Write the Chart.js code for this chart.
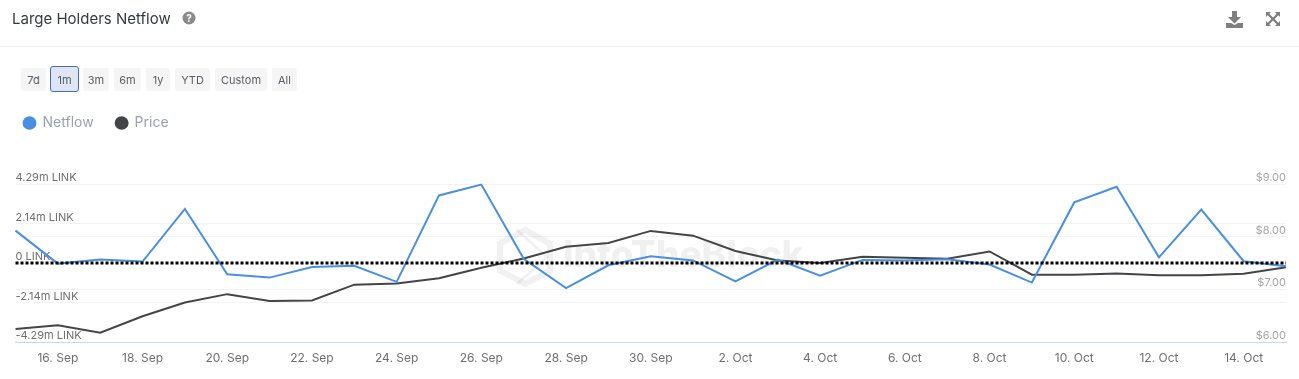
<!DOCTYPE html>
<html><head><meta charset="utf-8">
<script src="https://cdn.jsdelivr.net/npm/chart.js@4"></script>
<style>
html,body{margin:0;padding:0;background:#fff;overflow:hidden}
body{width:1299px;height:379px;position:relative;font-family:Inter,sans-serif}
#c{position:absolute;left:0;top:0}
#title{position:absolute;left:12px;top:10px;font-size:15px;line-height:18px;color:#333a42}
#q{position:absolute;left:182px;top:11px}
#rule{position:absolute;left:0;top:46px;width:1299px;height:1px;background:#eeeeee}
#dl{position:absolute;left:1226px;top:11px}
#fs{position:absolute;left:1265px;top:11px}
.b{position:absolute;top:68px;height:23px;line-height:25px;text-align:center;background:#f5f5f6;border-radius:2px;font-size:11px;color:#5a5f66;box-sizing:border-box}
.b.on{top:66px;height:26px;line-height:27px;background:#dfe5f2;border:1px solid #4169e1;border-radius:3px}
</style></head><body>
<canvas id="c" width="1299" height="379" style="width:1299px;height:379px"></canvas>
<div id="title">Large Holders Netflow</div>
<svg id="q" width="14" height="14" viewBox="0 0 14 14"><circle cx="7" cy="7" r="6.5" fill="#8a8a8a"/><text x="7" y="11" text-anchor="middle" font-family="Inter" font-weight="700" font-size="10" fill="#fff">?</text></svg>
<div id="rule"></div>
<svg id="dl" width="17" height="17" viewBox="0 0 17 17"><path d="M6 0h5v6h4l-6.500 6.500L2 6h4z" fill="#7f7f7f"/><path d="M0 12h5l3.500 2 3.500-2h5v5H0z" fill="#7f7f7f"/></svg>
<svg id="fs" width="16" height="16" viewBox="0 0 16 16" fill="#7f7f7f"><path d="M1 1h5L4.300 2.700 8 6.400 11.700 2.700 10 1h5v5l-1.700-1.700L9.600 8l3.700 3.700L15 10v5h-5l1.700-1.700L8 9.600l-3.700 3.700L6 15H1v-5l1.700 1.700L6.400 8 2.700 4.300 1 6z"/></svg>
<div class="b" style="left:21px;width:25px">7d</div>
<div class="b on" style="left:50px;width:29px">1m</div>
<div class="b" style="left:83px;width:26px">3m</div>
<div class="b" style="left:114px;width:27px">6m</div>
<div class="b" style="left:146px;width:24px">1y</div>
<div class="b" style="left:175px;width:35px">YTD</div>
<div class="b" style="left:215px;width:52px">Custom</div>
<div class="b" style="left:272px;width:25px">All</div>
<script>
const days = ["15. Sep","16. Sep","17. Sep","18. Sep","19. Sep","20. Sep","21. Sep","22. Sep","23. Sep","24. Sep","25. Sep","26. Sep","27. Sep","28. Sep","29. Sep","30. Sep","1. Oct","2. Oct","3. Oct","4. Oct","5. Oct","6. Oct","7. Oct","8. Oct","9. Oct","10. Oct","11. Oct","12. Oct","13. Oct","14. Oct","15. Oct"];
const netflow = [1.76,-0.03,0.19,0.08,2.94,-0.61,-0.79,-0.21,-0.15,-1.02,3.67,4.26,0.23,-1.36,-0.12,0.37,0.14,-1.0,0.19,-0.68,0.17,0.14,0.21,-0.08,-1.06,3.29,4.14,0.31,2.90,0.1,-0.17];
const price = [6.25,6.32,6.18,6.49,6.75,6.91,6.78,6.79,7.09,7.11,7.21,7.41,7.585,7.81,7.88,8.11,8.02,7.73,7.55,7.50,7.62,7.60,7.58,7.72,7.28,7.28,7.30,7.27,7.27,7.295,7.42];
const zeroLine = days.map(() => 0);
const leftTicks = [-4.29,-2.14,0,2.14,4.29];
const rightTicks = [6,7,8,9];

const legendGap = {id:'legendGap',
  beforeInit(chart){const fit=chart.legend.fit;chart.legend.fit=function(){fit.call(this);this.height=this.height+44;};},
  beforeDraw(chart){chart.legend.left=1.5;}
};
const watermark = {id:'watermark',beforeDatasetsDraw(chart){
  const g=chart.ctx;g.save();
  g.fillStyle='rgba(0,0,0,0.06)';g.strokeStyle='rgba(0,0,0,0.055)';
  g.font='800 37px Inter';g.textBaseline='middle';g.textAlign='left';
  g.fillText('IntoTheBlock',563,256);
  g.lineWidth=6;g.beginPath();
  const cx=525,cy=257,rx=25,ry=27;
  g.moveTo(cx,cy-ry);g.lineTo(cx+rx,cy-ry/2);g.lineTo(cx+rx,cy+ry/2);g.lineTo(cx,cy+ry);g.lineTo(cx-rx,cy+ry/2);g.lineTo(cx-rx,cy-ry/2);g.closePath();g.stroke();
  g.lineWidth=3;g.beginPath();g.moveTo(cx-8,cy-ry);g.lineTo(cx+rx-3,cy);g.lineTo(cx-8,cy+ry);g.stroke();
  g.restore();
}};

new Chart(document.getElementById('c'),{
  type:'line',
  data:{labels:days,datasets:[
    {label:'Netflow',data:netflow,yAxisID:'yL',borderColor:'#4a8fe0',backgroundColor:'#4a8fe0',borderWidth:2,pointRadius:0,tension:0,order:2,clip:false},
    {label:'Price',data:price,yAxisID:'yR',borderColor:'#434549',backgroundColor:'#434549',borderWidth:2,pointRadius:0,tension:0,order:3},
    {label:'Zero',data:zeroLine,yAxisID:'yL',borderColor:'#000',borderWidth:3,borderDash:[3,2],pointRadius:0,tension:0,order:1}
  ]},
  plugins:[legendGap,watermark],
  options:{
    responsive:false,animation:false,
    layout:{padding:{left:15.5,right:13,top:94,bottom:12.5}},
    plugins:{
      tooltip:{enabled:false},
      legend:{display:true,position:'top',align:'start',
        labels:{filter:i=>i.text!=='Zero',usePointStyle:true,pointStyle:'circle',boxHeight:8,pointStyleWidth:12,padding:22,color:'#9aa2ad',font:{family:'Inter',size:14}}}
    },
    scales:{
      x:{type:'category',offset:false,
        afterBuildTicks:s=>{s.ticks=s.ticks.filter(t=>t.value%2===1);},
        grid:{display:false,drawOnChartArea:false,drawTicks:true,tickColor:'#ccd6eb',tickLength:8},
        border:{display:true,color:'#ccd6eb',width:1},
        ticks:{autoSkip:false,maxRotation:0,minRotation:0,padding:1,color:'#6f6f6f',font:{family:'Inter',size:12},
          callback(v){return this.getLabelForValue(v);}}
      },
      yL:{type:'linear',position:'left',min:-4.29,max:4.29,
        afterBuildTicks:s=>{s.ticks=leftTicks.map(v=>({value:v}));},
        grid:{color:'#f3f3f3',drawTicks:false},border:{display:false},
        ticks:{mirror:true,padding:0,labelOffset:-6,color:'#6f6f6f',font:{family:'Inter',size:11},
          callback:v=>v===0?'0 LINK':v+'m LINK'}
      },
      yR:{type:'linear',position:'right',min:6,max:9,
        afterBuildTicks:s=>{s.ticks=rightTicks.map(v=>({value:v}));},
        grid:{color:'#f3f3f3',drawTicks:false},border:{display:false},
        ticks:{mirror:true,padding:0,labelOffset:-6.5,color:'#a6a6a6',font:{family:'Inter',size:11},
          callback:v=>'$'+v.toFixed(2)}
      }
    }
  }
});
</script>
</body></html>
